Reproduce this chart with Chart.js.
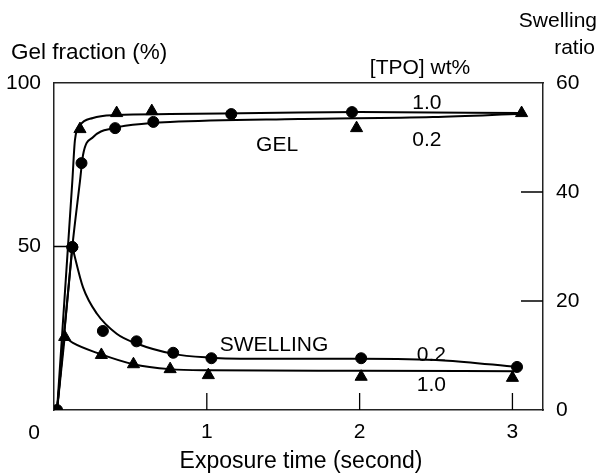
<!DOCTYPE html>
<html>
<head>
<meta charset="utf-8">
<script src="https://cdn.jsdelivr.net/npm/chart.js@4.4.1/dist/chart.umd.min.js"></script>
<style>
  html, body { margin: 0; padding: 0; background: #fff; }
  canvas { display: block; }
</style>
</head>
<body>
<canvas id="chart" width="600" height="474"></canvas>
<script>
// Exposure time (s) and measured values, [TPO] = 1.0 wt% (triangles) and 0.2 wt% (circles)
const gelTime10 = [0.17, 0.41, 0.64, 1.98, 3.06];
const gelFrac10 = [85.9, 90.8, 91.4, 86.2, 90.8];

const gelTime02 = [0.02, 0.12, 0.18, 0.40, 0.65, 1.16, 1.95];
const gelFrac02 = [0, 49.8, 75.5, 86.2, 88.1, 90.5, 91.1];

const swTime10 = [0.07, 0.31, 0.52, 0.76, 1.01, 2.01, 3.00];
const swRatio10 = [13.4, 10.1, 8.4, 7.5, 6.4, 6.1, 5.9];

const swTime02 = [0.12, 0.32, 0.54, 0.78, 1.03, 2.01, 3.03];
const swRatio02 = [29.9, 14.5, 12.6, 10.5, 9.5, 9.5, 7.9];

// Hand-drawn trend curves
const gelFitTime10 = [0.02, 0.12, 0.137, 0.17, 0.255, 0.41, 0.76, 1.6, 2.0, 3.06];
const gelFit10 = [0, 70, 82.5, 87, 89.3, 90.2, 90.5, 91.0, 91.1, 90.8];

const gelFitTime02 = [0.02, 0.12, 0.17, 0.19, 0.255, 0.39, 0.63, 0.76, 1.6, 2.48, 3.06];
const gelFit02 = [0, 50, 70, 78, 83.4, 86.2, 87.7, 88.1, 89.0, 89.6, 90.6];

const swRiseTime10 = [0.02, 0.07];
const swRise10 = [0, 13.4];
const swFitTime10 = [0.07, 0.124, 0.30, 0.52, 0.76, 1.02, 2.0, 3.03];
const swFit10 = [13.4, 12.3, 10.3, 8.4, 7.5, 7.3, 7.2, 7.1];

const swRiseTime02 = [0.02, 0.12];
const swRise02 = [0, 29.9];
const swFitTime02 = [0.12, 0.19, 0.28, 0.41, 0.54, 0.78, 1.02, 1.22, 2.01, 2.55, 3.03];
const swFit02 = [29.9, 22.5, 17.7, 14, 12.2, 10.3, 9.6, 9.4, 9.4, 9.1, 7.9];

// Axis ticks
const timeTicks = [1, 2, 3];
const gelTicks = [50, 100];
const swellTicks = [0, 20, 40, 60];

const FONT = "'Liberation Sans', Arial, sans-serif";
const INK = '#000';
const FRAME = '#222';

const pts = (xs, ys) => xs.map((x, i) => ({ x, y: ys[i] }));

function markers(xs, ys, style, radius, axis) {
  return {
    data: pts(xs, ys), yAxisID: axis, showLine: false,
    pointStyle: style, pointRadius: radius, pointHoverRadius: radius,
    pointBackgroundColor: INK, pointBorderColor: INK, pointBorderWidth: 1
  };
}
function curve(xs, ys, axis, smooth) {
  return {
    data: pts(xs, ys), yAxisID: axis, showLine: true, pointRadius: 0,
    borderColor: INK, borderWidth: 2, fill: false,
    tension: smooth ? 0.4 : 0, cubicInterpolationMode: smooth ? 'monotone' : 'default'
  };
}

// Inward tick marks on the frame
const innerTicks = {
  id: 'innerTicks',
  beforeDatasetsDraw(chart) {
    const { ctx, chartArea: a, scales } = chart;
    ctx.save();
    ctx.strokeStyle = INK;
    ctx.lineWidth = 1.3;
    ctx.beginPath();
    timeTicks.forEach(v => {
      const x = scales.x.getPixelForValue(v);
      ctx.moveTo(x, a.bottom); ctx.lineTo(x, a.bottom - 17);
    });
    [50].forEach(v => {
      const y = scales.y.getPixelForValue(v);
      ctx.moveTo(a.left, y); ctx.lineTo(a.left + 18, y);
    });
    [20, 40].forEach(v => {
      const y = scales.y2.getPixelForValue(v);
      ctx.moveTo(a.right, y); ctx.lineTo(a.right - 22, y);
    });
    ctx.stroke();
    ctx.restore();
  }
};

// Titles and curve labels
const labels = {
  id: 'labels',
  afterDraw(chart) {
    const { ctx, scales } = chart;
    ctx.save();
    ctx.fillStyle = INK;
    ctx.textBaseline = 'middle';

    ctx.font = `22.5px ${FONT}`;
    ctx.textAlign = 'left';
    ctx.fillText('Gel fraction (%)', 11, 53);
    ctx.textAlign = 'center';
    ctx.font = `23px ${FONT}`;
    ctx.fillText('Exposure time (second)', 301, 462);

    ctx.font = `21px ${FONT}`;
    ctx.textAlign = 'right';
    ctx.fillText('Swelling', 597, 21);
    ctx.fillText('ratio', 595, 48);
    ctx.textAlign = 'center';
    ctx.fillText('[TPO] wt%', 420, 68);
    ctx.fillText('0', 34, 433);

    const at = (txt, t, v, axis) => {
      ctx.fillText(txt, scales.x.getPixelForValue(t), scales[axis].getPixelForValue(v));
    };
    at('GEL', 1.46, 81.0, 'y');
    at('1.0', 2.44, 93.9, 'y');
    at('0.2', 2.44, 82.6, 'y');
    at('SWELLING', 1.44, 11.9, 'y2');
    at('0.2', 2.47, 10.1, 'y2');
    at('1.0', 2.47, 4.6, 'y2');
    ctx.restore();
  }
};

const tickFont = { family: FONT, size: 21 };
const frameBorder = { display: true, color: FRAME, width: 1.5 };
const setTicks = list => axis => { axis.ticks = list.map(value => ({ value })); };

new Chart(document.getElementById('chart'), {
  type: 'scatter',
  data: {
    datasets: [
      markers(gelTime10, gelFrac10, 'triangle', 7, 'y'),
      markers(gelTime02, gelFrac02, 'circle', 5.5, 'y'),
      markers(swTime10, swRatio10, 'triangle', 7, 'y2'),
      markers(swTime02, swRatio02, 'circle', 5.5, 'y2'),
      curve(gelFitTime10, gelFit10, 'y', true),
      curve(gelFitTime02, gelFit02, 'y', true),
      curve(swRiseTime10, swRise10, 'y2', false),
      curve(swFitTime10, swFit10, 'y2', true),
      curve(swRiseTime02, swRise02, 'y2', false),
      curve(swFitTime02, swFit02, 'y2', true)
    ]
  },
  options: {
    responsive: false,
    animation: false,
    devicePixelRatio: 1,
    layout: { padding: 0 },
    plugins: { legend: { display: false }, tooltip: { enabled: false } },
    scales: {
      x: {
        type: 'linear', position: 'bottom', min: 0, max: 3.2,
        afterBuildTicks: setTicks(timeTicks),
        ticks: { font: tickFont, color: INK, padding: 10, maxRotation: 0, autoSkip: false },
        grid: { display: false, drawTicks: false },
        border: frameBorder,
        afterFit: s => { s.height = 64; }
      },
      xTop: {
        type: 'linear', position: 'top', min: 0, max: 3.2,
        ticks: { display: false },
        grid: { display: false, drawTicks: false },
        border: frameBorder,
        afterFit: s => { s.height = 83; }
      },
      y: {
        type: 'linear', position: 'left', min: 0, max: 100,
        afterBuildTicks: setTicks(gelTicks),
        ticks: { font: tickFont, color: INK, padding: 13, autoSkip: false },
        grid: { display: false, drawTicks: false },
        border: frameBorder,
        afterFit: s => { s.width = 54; }
      },
      y2: {
        type: 'linear', position: 'right', min: 0, max: 60,
        afterBuildTicks: setTicks(swellTicks),
        ticks: { font: tickFont, color: INK, padding: 13, autoSkip: false },
        grid: { display: false, drawTicks: false },
        border: frameBorder,
        afterFit: s => { s.width = 57; }
      }
    }
  },
  plugins: [innerTicks, labels]
});
</script>
</body>
</html>
